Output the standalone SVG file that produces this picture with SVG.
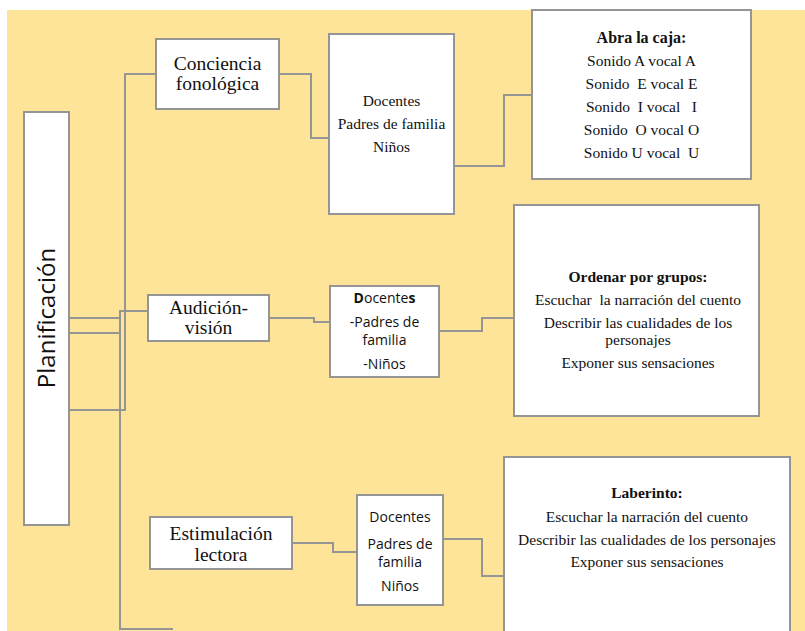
<svg xmlns="http://www.w3.org/2000/svg" width="805" height="631" viewBox="0 0 805 631">
  <style>
    .box { fill: #ffffff; stroke: #959595; stroke-width: 2; }
    .wire { fill: none; stroke: #959595; stroke-width: 2; }
    .serif { font-family: "Liberation Serif", "Times New Roman", serif; fill: #111; text-anchor: middle; }
    .sans { font-family: "Open Sans", "Noto Sans", sans-serif; fill: #111; text-anchor: middle; }
    .big { font-size: 19.5px; }
    .mid { font-size: 15.5px; }
    .small { font-size: 14px; }
    .b { font-weight: bold; }
  </style>

  <!-- canvas -->
  <rect x="0" y="0" width="805" height="631" fill="#ffffff"/>
  <rect x="7" y="10" width="798" height="621" fill="#FEE498"/>

  <!-- connectors -->
  <g id="connectors">
    <path class="wire" d="M69,410 H125 V74 H156"/>
    <path class="wire" d="M69,318 H120 M69,333 H120"/>
    <path class="wire" d="M148,311 H120 V629 H173"/>
    <path class="wire" d="M279,74 H311 V138 H329"/>
    <path class="wire" d="M454,166 H504 V95 H532"/>
    <path class="wire" d="M269,318 H314 V322 H330"/>
    <path class="wire" d="M439,331 H482 V318 H514"/>
    <path class="wire" d="M292,543 H333 V552 H357"/>
    <path class="wire" d="M443,539 H482 V576 H504"/>
  </g>

  <!-- root -->
  <g id="planificacion">
    <rect class="box" x="24" y="112" width="45" height="413"/>
    <text class="sans" font-size="24" transform="translate(55,318) rotate(-90)">Planificación</text>
  </g>

  <!-- branch 1 -->
  <g id="conciencia">
    <rect class="box" x="156" y="39" width="123" height="70"/>
    <text class="serif big" x="217.5" y="70">Conciencia</text>
    <text class="serif big" x="217.5" y="90">fonológica</text>
  </g>
  <g id="actores1">
    <rect class="box" x="329" y="34" width="125" height="180"/>
    <text class="serif mid" x="391.5" y="106">Docentes</text>
    <text class="serif mid" x="391.5" y="129">Padres de familia</text>
    <text class="serif mid" x="391.5" y="152">Niños</text>
  </g>
  <g id="abra-la-caja">
    <rect class="box" x="532" y="10" width="219" height="169"/>
    <text class="serif b" font-size="16" x="641.5" y="43">Abra la caja:</text>
    <text class="serif mid" x="641.5" y="66" xml:space="preserve">Sonido A vocal A</text>
    <text class="serif mid" x="641.5" y="89" xml:space="preserve">Sonido  E vocal E</text>
    <text class="serif mid" x="641.5" y="112" xml:space="preserve">Sonido  I vocal   I</text>
    <text class="serif mid" x="641.5" y="135" xml:space="preserve">Sonido  O vocal O</text>
    <text class="serif mid" x="641.5" y="158" xml:space="preserve">Sonido U vocal  U</text>
  </g>

  <!-- branch 2 -->
  <g id="audicion">
    <rect class="box" x="148" y="295" width="121" height="46"/>
    <text class="serif big" x="208.5" y="314">Audición-</text>
    <text class="serif big" x="208.5" y="334">visión</text>
  </g>
  <g id="actores2">
    <rect class="box" x="330" y="286" width="109" height="91"/>
    <text class="sans small" x="384.5" y="303"><tspan font-weight="bold">D</tspan>ocente<tspan font-weight="bold">s</tspan></text>
    <text class="sans small" x="384.5" y="327">-Padres de</text>
    <text class="sans small" x="384.5" y="345">familia</text>
    <text class="sans small" x="384.5" y="369">-Niños</text>
  </g>
  <g id="ordenar">
    <rect class="box" x="514" y="205" width="245" height="211"/>
    <text class="serif b mid" x="638" y="282">Ordenar por grupos:</text>
    <text class="serif mid" x="638" y="305" xml:space="preserve">Escuchar  la narración del cuento</text>
    <text class="serif mid" x="638" y="328">Describir las cualidades de los</text>
    <text class="serif mid" x="638" y="345">personajes</text>
    <text class="serif mid" x="638" y="368">Exponer sus sensaciones</text>
  </g>

  <!-- branch 3 -->
  <g id="estimulacion">
    <rect class="box" x="150" y="517" width="142" height="52"/>
    <text class="serif big" x="221" y="540">Estimulación</text>
    <text class="serif big" x="221" y="561">lectora</text>
  </g>
  <g id="actores3">
    <rect class="box" x="357" y="495" width="86" height="110"/>
    <text class="sans small" x="400" y="522">Docentes</text>
    <text class="sans small" x="400" y="549">Padres de</text>
    <text class="sans small" x="400" y="567">familia</text>
    <text class="sans small" x="400" y="591">Niños</text>
  </g>
  <g id="laberinto">
    <rect class="box" x="504" y="457" width="286" height="186"/>
    <text class="serif b mid" x="647" y="498">Laberinto:</text>
    <text class="serif mid" x="647" y="522">Escuchar la narración del cuento</text>
    <text class="serif mid" x="647" y="545">Describir las cualidades de los personajes</text>
    <text class="serif mid" x="647" y="567">Exponer sus sensaciones</text>
  </g>
</svg>
